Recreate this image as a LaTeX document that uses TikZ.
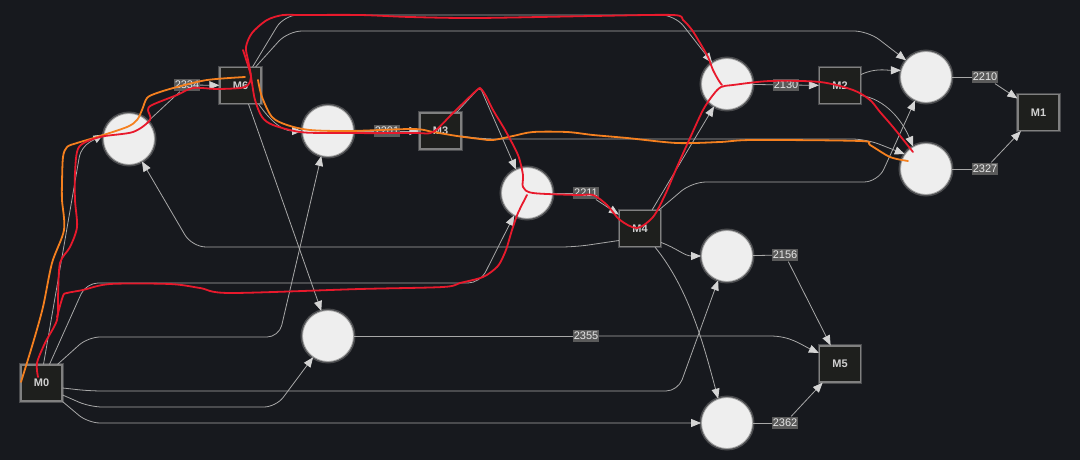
\documentclass[tikz,border=0pt]{standalone}
\usepackage{fontspec}
\setmainfont{Liberation Sans}
\usetikzlibrary{arrows.meta}
\definecolor{bgc}{HTML}{17191E}
\definecolor{cfill}{HTML}{EEEEEE}
\definecolor{cborder}{HTML}{A0A0A0}
\definecolor{glowc}{HTML}{8A8A8A}
\definecolor{sqfill}{HTML}{1E1F1D}
\definecolor{sqborder}{HTML}{808080}
\definecolor{sqtext}{HTML}{D0D0D0}
\definecolor{lblfill}{HTML}{5A5A5A}
\definecolor{lbltext}{HTML}{E6E6E6}
\definecolor{edgec}{HTML}{A8A8A8}
\definecolor{tipc}{HTML}{D4D4D4}
\definecolor{hredc}{HTML}{E8192C}
\definecolor{horangec}{HTML}{F5801F}
\tikzset{
  circ/.style={circle, fill=cfill, draw=cborder, line width=0.8pt, minimum size=51pt, inner sep=0pt,
    preaction={draw=glowc, line width=4pt, opacity=0.45}},
  sq/.style={rectangle, fill=sqfill, draw=sqborder, line width=1.2pt, minimum width=41pt, minimum height=36pt,
    inner sep=0pt, text=sqtext, font=\bfseries\fontsize{11}{13}\selectfont,
    preaction={draw=glowc, line width=3.5pt, opacity=0.45}},
  lbl/.style={fill=lblfill, text=lbltext, font=\fontsize{11}{13}\selectfont, inner xsep=0.8pt, inner ysep=2.5pt},
  edge/.style={draw=edgec, line width=0.8pt},
  arr/.style={edge, -{Triangle[length=10pt,width=8pt,color=tipc]}},
  hred/.style={draw=hredc, line width=1.8pt, line cap=round, line join=round},
  horange/.style={draw=horangec, line width=1.8pt, line cap=round, line join=round}
}
\begin{document}
\begin{tikzpicture}[x=1pt,y=-1pt]
\fill[bgc] (0,0) rectangle (1080,460);
\useasboundingbox (0,0) rectangle (1080,460);
% square nodes
\node[sq] (M0) at (41.5,383) {M0};
\node[sq] (M6) at (240.5,85.5) {M6};
\node[sq] (M3) at (440.5,131) {M3};
\node[sq] (M4) at (640,228.5) {M4};
\node[sq] (M2) at (840,85.5) {M2};
\node[sq] (M1) at (1038.5,112.5) {M1};
\node[sq] (M5) at (840,364) {M5};
% circle nodes
\node[circ] (C1) at (129,139) {};
\node[circ] (C2) at (328,131) {};
\node[circ] (C3) at (527,193) {};
\node[circ] (C4) at (727,84) {};
\node[circ] (C5) at (926,77) {};
\node[circ] (C6) at (926,169) {};
\node[circ] (C7) at (727,256) {};
\node[circ] (C8) at (328,336) {};
\node[circ] (C9) at (727,423) {};
% labels
\node[lbl] (L1) at (187,85) {2334};
\node[lbl] (L2) at (387,131) {2201};
\node[lbl] (L3) at (586,193) {2211};
\node[lbl] (L4) at (786,85) {2130};
\node[lbl] (L5) at (985,77) {2210};
\node[lbl] (L6) at (985,169) {2327};
\node[lbl] (L7) at (785,255) {2156};
\node[lbl] (L8) at (785,423) {2362};
\node[lbl] (L9) at (586,336) {2355};
% labelled edges
\draw[edge] (C1) -- (L1); \draw[arr] (L1) -- (M6);
\draw[edge] (C2) -- (L2); \draw[arr] (L2) -- (M3);
\draw[edge] (C3) -- (L3); \draw[arr] (L3) -- (M4);
\draw[edge] (C4) -- (L4); \draw[arr] (L4) -- (M2);
\draw[edge] (C5) -- (L5); \draw[arr] (L5) -- (M1);
\draw[edge] (C6) -- (L6); \draw[arr] (L6) -- (M1);
\draw[edge] (C7) -- (L7); \draw[arr] (L7) -- (M5);
\draw[edge] (C9) -- (L8); \draw[arr] (L8) -- (M5);
\draw[edge] (C8) -- (L9); \draw[arr] (L9) -- (770,336) to[out=0,in=155] ([yshift=11pt]M5.west);
% M0 edges
\draw[arr, rounded corners=10pt] ([xshift=2pt]M0.north) -- (81,147) -- (C1.170);
\draw[arr, rounded corners=12pt] ([xshift=8pt]M0.north) -- (86,283) -- (480,283) -- (C3.240);
\draw[arr, rounded corners=12pt] ([xshift=16pt]M0.north) -- (88,337) -- (279,337) -- (C2.255);
\draw[arr, rounded corners=12pt] ([yshift=-5pt]M0.east) -- (90,391) -- (678,391) -- (C7.250);
\draw[arr, rounded corners=12pt] ([yshift=-12pt]M0.east) -- (90,407) -- (276,407) -- (C8.235);
\draw[arr, rounded corners=12pt] (M0.south east) -- (88,423) -- (C9.west);
% M6 edges
\draw[arr, rounded corners=14pt] ([xshift=-6pt]M6.north east) -- (288,31) -- (868,31) -- (C5.140);
\draw[arr, rounded corners=14pt] ([xshift=-9pt]M6.north east) -- (284,15) -- (675,15) -- (C4.125);
\draw[arr] ([xshift=-3pt]M6.south east) to[out=-55,in=180] (C2.west);
\draw[arr] ([xshift=8pt]M6.south) -- (C8.105);
% M3 edges
\draw[arr, rounded corners=4pt] ([xshift=-5pt]M3.north east) -- (480,87) -- (C3.115);
\draw[arr, rounded corners=14pt] ([yshift=-5pt]M3.east) -- (482,139) -- (866,139) -- (C6.145);
% M4 edges
\draw[arr, rounded corners=14pt] ([yshift=-12pt]M4.west) -- (575,247) -- (192,247) -- (C1.300);
\draw[arr] ([xshift=-9pt]M4.north east) -- (C4.240);
\draw[arr, rounded corners=14pt] ([xshift=-2pt]M4.north east) -- (692,182) -- (878,182) -- (C5.245);
\draw[arr] ([yshift=-14pt]M4.east) to[out=-20,in=180] (C7.west);
\draw[arr] ([xshift=15pt]M4.south) .. controls (690,290) and (705,350) .. (C9.110);
% M2 edges
\draw[arr] ([yshift=11pt]M2.east) to[out=25,in=180] (C5.165);
\draw[arr] ([yshift=-10pt]M2.east) .. controls (885,99) and (902,120) .. (C6.120);
% highlighted paths
\draw[horange] plot[smooth, tension=0.5] coordinates {(21,382) (33,343) (43,307) (52,263) (64,230) (62,200) (62,183) (63,157) (67,147) (77,143) (97,137) (127,127) (137,120) (142,110) (147,98) (157,93) (177,87) (207,80) (245,77)};
\draw[horange] plot[smooth, tension=0.5] coordinates {(258,80) (262,97) (272,117) (287,125) (310,130) (350,131) (413,129) (433,132) (457,136) (480,139) (493,140) (513,136) (533,132) (567,132) (593,135) (627,138) (677,143) (720,142) (753,140) (860,141) (870,145) (890,157) (908,161)};
\draw[hred] plot[smooth, tension=0.5] coordinates {(38,377) (37,363) (45,343) (57,320) (58,297) (60,263) (70,247) (77,227) (75,200) (75,173) (79,147) (100,137) (133,132) (150,120) (148,110) (152,105) (177,95) (193,88) (217,89) (240,88) (248,85) (251,77) (248,60) (246,47) (252,33) (267,20) (283,15) (300,15) (360,15) (410,17) (477,18) (593,16) (673,15) (683,20) (692,30) (700,43) (708,57) (713,70) (719,81) (722,85)};
\draw[hred] plot[smooth, tension=0.5] coordinates {(57,317) (63,296) (67,293) (83,290) (110,284) (170,284) (200,288) (230,293) (360,289) (443,287) (460,283) (483,277) (497,267) (503,257) (507,247) (512,230) (518,213) (527,195)};
\draw[hred] plot[smooth, tension=0.5] coordinates {(243,50) (250,72) (252,83) (255,100) (262,117) (273,125) (300,132) (333,133) (413,133) (433,132) (453,113) (477,90) (481,89) (486,96) (493,110) (505,130) (518,155) (523,175) (523,187) (533,193) (577,195) (593,195) (607,205) (620,220) (637,228) (653,217) (665,195) (677,167) (690,138) (703,110) (713,95) (721,87) (733,85) (770,81) (820,82) (853,90) (870,100) (880,112) (893,127) (913,152)};
\end{tikzpicture}
\end{document}
